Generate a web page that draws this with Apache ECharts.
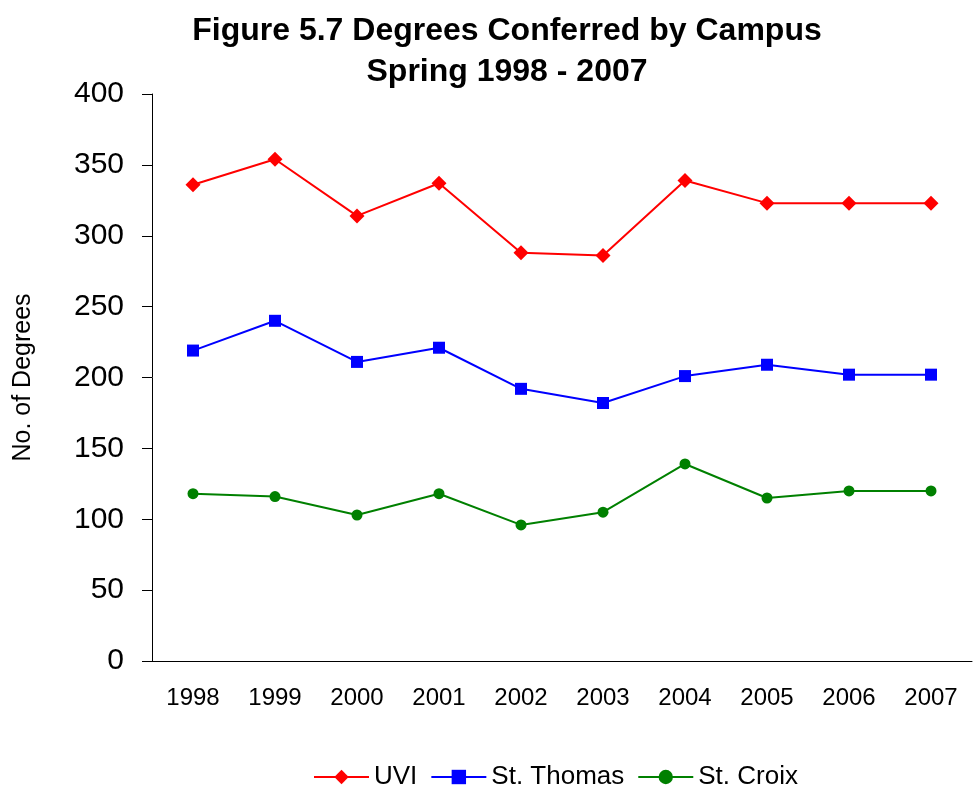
<!DOCTYPE html>
<html>
<head>
<meta charset="utf-8">
<script src="https://cdn.jsdelivr.net/npm/echarts@6/dist/echarts.min.js"></script>
<style>
  html, body { margin: 0; padding: 0; background: #fff; }
  #chart { width: 973px; height: 788px; }
</style>
</head>
<body>
<div id="chart"></div>
<script>
const years = ['1998', '1999', '2000', '2001', '2002', '2003', '2004', '2005', '2006', '2007']
const uvi = [336, 354, 314, 337, 288, 286, 339, 323, 323, 323]
const stThomas = [219, 240, 211, 221, 192, 182, 201, 209, 202, 202]
const stCroix = [118, 116, 103, 118, 96, 105, 139, 115, 120, 120]
const yTicks = { min: 0, max: 400, interval: 50 }

const font = 'Liberation Sans, Arial, sans-serif'

const chart = echarts.init(document.getElementById('chart'))

const makeSeries = (name, data, color, symbol, size) => ({
  name,
  type: 'line',
  data,
  symbol,
  symbolSize: size,
  showSymbol: true,
  lineStyle: { width: 2, color },
  itemStyle: { color },
  animation: false
})

const option = {
  backgroundColor: '#fff',
  textStyle: { fontFamily: font },
  title: {
    text: 'Figure 5.7 Degrees Conferred by Campus\nSpring 1998 - 2007',
    left: 502,
    top: 6,
    textAlign: 'center',
    textStyle: {
      fontFamily: font,
      fontSize: 32,
      fontWeight: 'bold',
      color: '#000',
      lineHeight: 41
    }
  },
  legend: {
    left: 313,
    top: 764,
    padding: 0,
    itemWidth: 55,
    itemHeight: 18,
    itemGap: 13,
    textStyle: { fontFamily: font, fontSize: 26, color: '#000' },
    data: ['UVI', 'St. Thomas', 'St. Croix']
  },
  grid: {
    left: 152,
    right: 1,
    top: 94,
    bottom: 127,
    containLabel: false,
    outerBoundsMode: 'none'
  },
  xAxis: {
    type: 'category',
    data: years,
    boundaryGap: true,
    axisLine: { show: true, lineStyle: { color: '#000', width: 1 } },
    axisTick: { show: false },
    axisLabel: { fontFamily: font, fontSize: 24, color: '#000', margin: 25 },
    splitLine: { show: false }
  },
  yAxis: {
    type: 'value',
    min: yTicks.min,
    max: yTicks.max,
    interval: yTicks.interval,
    name: 'No. of Degrees',
    nameLocation: 'middle',
    nameGap: 116,
    nameRotate: 90,
    nameTextStyle: { fontFamily: font, fontSize: 25, color: '#000' },
    axisLine: { show: true, lineStyle: { color: '#000', width: 1 } },
    axisTick: { show: true, inside: false, length: 10, lineStyle: { color: '#000' } },
    axisLabel: { fontFamily: font, fontSize: 30, color: '#000', margin: 28 },
    splitLine: { show: false }
  },
  series: [
    makeSeries('UVI', uvi, '#ff0000', 'diamond', 15),
    makeSeries('St. Thomas', stThomas, '#0000ff', 'rect', 12),
    makeSeries('St. Croix', stCroix, '#008000', 'circle', 11)
  ]
}

chart.setOption(option)
</script>
</body>
</html>
